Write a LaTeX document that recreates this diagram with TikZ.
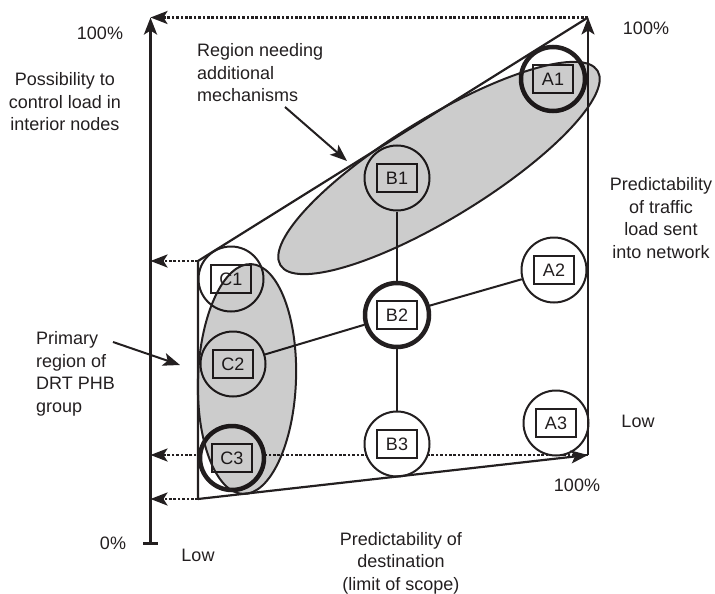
\documentclass[tikz,border=0pt]{standalone}
\usepackage{fontspec}
\setmainfont{Liberation Sans}
\usetikzlibrary{arrows.meta}
\definecolor{ink}{RGB}{35,31,32}
\definecolor{regionfill}{gray}{0.8}
\begin{document}
\begin{tikzpicture}[x=1pt,y=-1pt,
  every node/.style={text=ink, font=\fontsize{18pt}{22.5pt}\selectfont, inner sep=0pt},
  axisline/.style={draw=ink, line width=3pt},
  frameline/.style={draw=ink, line width=2.2pt},
  guide/.style={draw=ink, line width=2.6pt, dash pattern=on 2.6pt off 1.8pt},
  arrowtip/.style={-{Stealth[length=17pt,width=13pt,inset=4pt]}},
  regionfillstyle/.style={fill=regionfill, blend mode=multiply},
  regionedge/.style={draw=ink, line width=2pt},
  pnode/.style={circle, draw=ink, fill=white, line width=2pt, minimum size=65pt},
  hub/.style={pnode, line width=4.5pt, minimum size=64pt},
  tag/.style={rectangle, draw=ink, line width=2.3pt, minimum width=40pt, minimum height=27.5pt},
  link/.style={draw=ink, line width=2pt},
  caption/.style={align=center},
  leftcaption/.style={align=left}
]
\useasboundingbox (0,0) rectangle (715,594);

% corner points of the frame and the main axis
\coordinate (axbot) at (150.5,543);
\coordinate (axtop) at (150.5,17.5);
\coordinate (TL) at (198,261);
\coordinate (BL) at (198,499);
\coordinate (TR) at (588,17.5);
\coordinate (BR) at (588,455);

% dotted projections onto the main axis
\draw[guide, arrowtip] (TR) -- (axtop);
\draw[guide, arrowtip] (TL) -- (TL -| axtop);
\draw[guide, arrowtip] (BR) -- (BR -| axtop);
\draw[guide, arrowtip] (BL) -- (BL -| axtop);

% main axis with its zero tick
\draw[axisline, arrowtip] (axbot) -- (axtop);
\draw[axisline] (axbot) ++(-7.5,0) -- ++(15,0);

% circles of the operating points
\node[hub]   (cA1) at (553,79)  {};
\node[pnode] (cB1) at (397,178) {};
\node[hub]   (cB2) at (397,315) {};
\node[pnode] (cB3) at (397,444) {};
\node[pnode] (cA2) at (554,270) {};
\node[pnode] (cA3) at (556,423) {};
\node[pnode] (cC1) at (231,279) {};
\node[pnode] (cC2) at (233,364) {};
\node[hub]   (cC3) at (232,458) {};

% links between points
\draw[link] (cB1) -- (cB2);
\draw[link] (cB2) -- (cB3);
\draw[link] (cB2) -- (cA2);
\draw[link] (cB2) -- (cC2);

% frame of the region
\draw[frameline] (TR) -- (TL) -- (BL);
\draw[frameline, arrowtip] (BL) -- (BR);
\draw[frameline, arrowtip] (BR) -- (TR);

% labelled boxes
\node[tag] (A1) at (cA1) {A1};
\node[tag] (B1) at (cB1) {B1};
\node[tag] (B2) at (cB2) {B2};
\node[tag] (B3) at (cB3) {B3};
\node[tag] (A2) at (cA2) {A2};
\node[tag] (A3) at (cA3) {A3};
\node[tag] (C1) at (cC1) {C1};
\node[tag] (C2) at (cC2) {C2};
\node[tag] (C3) at (cC3) {C3};

% shaded regions
\path[regionfillstyle, rotate around={31.5:(439,168)}] (439,168) ellipse [x radius=186pt, y radius=50pt];
\path[regionfillstyle, rotate around={-2:(247,379)}] (247,379) ellipse [x radius=49pt, y radius=115pt];
\draw[regionedge, rotate around={31.5:(439,168)}] (439,168) ellipse [x radius=186pt, y radius=50pt];
\draw[regionedge, rotate around={-2:(247,379)}] (247,379) ellipse [x radius=49pt, y radius=115pt];

% pointers to the regions
\coordinate (regtail) at (285,107);
\coordinate (reghead) at (347,161);
\coordinate (primtail) at (113,342);
\coordinate (primhead) at (180,365);
\draw[link, arrowtip] (regtail) -- (reghead);
\draw[link, arrowtip] (primtail) -- (primhead);

% texts
\node (ytop) at (100,33) {100\%};
\node (yzero) at (113,543) {0\%};
\node[caption] (ytitle) at (65,102) {Possibility to\\control load in\\interior nodes};
\node[leftcaption, anchor=west] (regtext) at (197,73) {Region needing\\additional\\mechanisms};
\node (ztop) at (646,28) {100\%};
\node[caption] (ztitle) at (661,218) {Predictability\\of traffic\\load sent\\into network};
\node (zlow) at (638,421) {Low};
\node (xtop) at (577,485) {100\%};
\node[leftcaption, anchor=west] (primtext) at (36,374) {Primary\\region of\\DRT PHB\\group};
\node (xlow) at (198,555) {Low};
\node[caption] (xtitle) at (401,563) {Predictability of\\destination\\(limit of scope)};
\end{tikzpicture}
\end{document}
